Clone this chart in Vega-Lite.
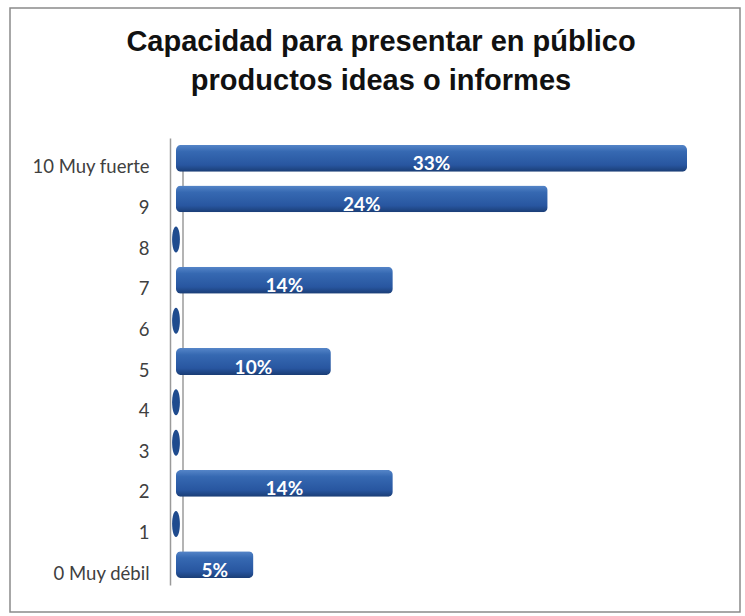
{
  "$schema": "https://vega.github.io/schema/vega-lite/v6.json",
  "width": 730,
  "height": 604,
  "autosize": "none",
  "padding": {"left": 10, "top": 8, "right": 5, "bottom": 4},
  "background": "white",
  "config": {"view": {"stroke": "#8a8a8a", "strokeWidth": 1.5}},
  "title": {
    "text": ["Capacidad para presentar en público", "productos ideas o informes"],
    "font": "Liberation Sans",
    "fontSize": 29,
    "fontWeight": "bold",
    "color": "#111111",
    "lineHeight": 39,
    "anchor": "middle",
    "frame": "group",
    "baseline": "top",
    "offset": -20,
    "dx": 6,
    "dy": 68
  },
  "data": {
    "values": [
      {"cat": "10 Muy fuerte", "value": 0.33},
      {"cat": "9", "value": 0.24},
      {"cat": "8", "value": 0},
      {"cat": "7", "value": 0.14},
      {"cat": "6", "value": 0},
      {"cat": "5", "value": 0.10},
      {"cat": "4", "value": 0},
      {"cat": "3", "value": 0},
      {"cat": "2", "value": 0.14},
      {"cat": "1", "value": 0},
      {"cat": "0 Muy débil", "value": 0.05}
    ]
  },
  "encoding": {
    "y": {
      "field": "cat",
      "type": "nominal",
      "sort": null,
      "scale": {
        "domain": ["10 Muy fuerte", "9", "8", "7", "6", "5", "4", "3", "2", "1", "0 Muy débil"],
        "range": [130, 577],
        "paddingInner": 0.34,
        "paddingOuter": 0.17
      }
    }
  },
  "layer": [
    {
      "mark": {"type": "rule", "color": "#b4b4b4", "strokeWidth": 1.2},
      "encoding": {
        "x": {
          "datum": 0,
          "type": "quantitative",
          "scale": {"domain": [0, 0.35], "range": [173, 715], "zero": false, "nice": false},
          "axis": null
        },
        "y": {"datum": "10 Muy fuerte", "type": "nominal"},
        "y2": {"datum": "0 Muy débil"}
      }
    },
    {
      "mark": {
        "type": "bar",
        "cornerRadius": 5,
        "color": {
          "gradient": "linear",
          "x1": 0, "y1": 0, "x2": 0, "y2": 1,
          "stops": [
            {"offset": 0, "color": "#5585c8"},
            {"offset": 0.25, "color": "#3669b2"},
            {"offset": 0.75, "color": "#2856a0"},
            {"offset": 1, "color": "#1a3d75"}
          ]
        }
      },
      "encoding": {
        "x": {
          "field": "value",
          "type": "quantitative",
          "scale": {"domain": [0, 0.35], "range": [166, 708], "zero": false, "nice": false},
          "axis": null
        },
        "y": {
          "field": "cat",
          "type": "nominal",
          "sort": null,
          "title": null,
          "axis": {
            "orient": "left",
            "offset": -160,
            "ticks": false,
            "domainColor": "#9a9a9a",
            "domainWidth": 1.5,
            "labelFont": "Lato",
            "labelFontSize": 18.5,
            "labelColor": "#404040",
            "labelPadding": 21,
            "labelOffset": 9
          }
        }
      }
    },
    {
      "transform": [{"filter": "datum.value == 0"}],
      "mark": {
        "type": "point",
        "filled": true,
        "opacity": 1,
        "shape": "M0,-1A0.3,1,0,1,1,0,1A0.3,1,0,1,1,0,-1Z",
        "size": 676,
        "color": "#1f4b8e"
      },
      "encoding": {
        "x": {
          "field": "value",
          "type": "quantitative",
          "scale": {"domain": [0, 0.35], "range": [166, 708], "zero": false, "nice": false},
          "axis": null
        }
      }
    },
    {
      "transform": [{"filter": "datum.value > 0"}],
      "mark": {
        "type": "text",
        "font": "Lato",
        "fontSize": 19,
        "fontWeight": "bold",
        "color": "white",
        "align": "center",
        "baseline": "middle",
        "dy": 6
      },
      "encoding": {
        "x": {
          "field": "value",
          "type": "quantitative",
          "scale": {"domain": [0, 0.35], "range": [166, 437], "zero": false, "nice": false},
          "axis": null
        },
        "text": {"field": "value", "type": "quantitative", "format": ".0%"}
      }
    }
  ],
  "resolve": {"scale": {"x": "independent"}}
}
